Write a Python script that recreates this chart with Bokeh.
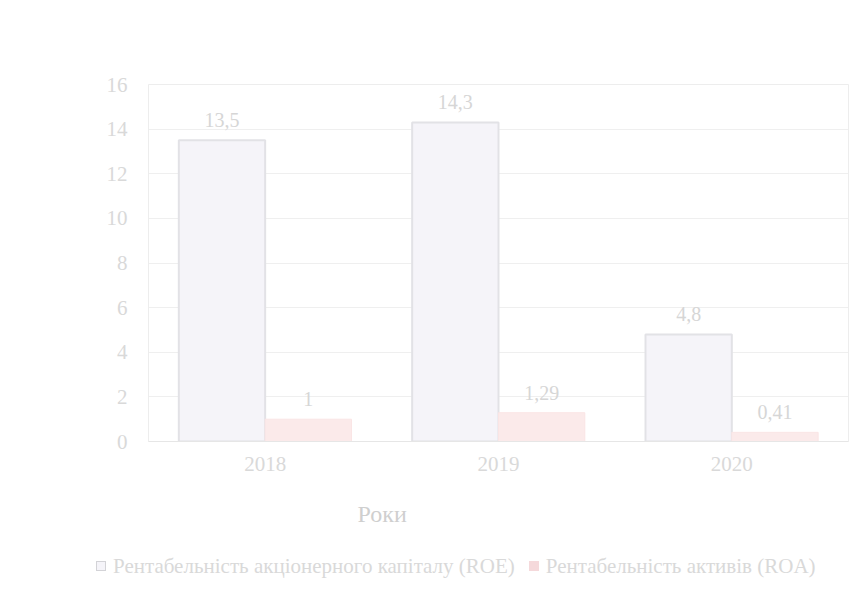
from bokeh.plotting import figure
from bokeh.layouts import column
from bokeh.models import ColumnDataSource, FactorRange, Range1d, Title, FixedTicker, LabelSet, Div
from bokeh.transform import dodge
from bokeh.core.properties import value
from bokeh.embed import file_html
from bokeh.resources import INLINE

years = ["2018", "2019", "2020"]
roe = [13.5, 14.3, 4.8]
roa = [1, 1.29, 0.41]
y_ticks = [0, 2, 4, 6, 8, 10, 12, 14, 16]
roe_name = "Рентабельність акціонерного капіталу (ROE)"
roa_name = "Рентабельність активів (ROA)"
x_title = "Роки"

def fmt(v):
    return f"{v:g}".replace(".", ",")

src = ColumnDataSource(dict(
    years=years, roe=roe, roa=roa,
    roe_lbl=[fmt(v) for v in roe], roa_lbl=[fmt(v) for v in roa],
))

FONT = "Liberation Serif"
TXT = "#d9d9d9"
ROE_FILL, ROE_LINE = "#f5f4f9", "#e2e2e6"
ROA_FILL, ROA_LINE = "#fbeaea", "#fae5e5"

p = figure(x_range=FactorRange(*years), y_range=Range1d(0, 16),
           width=855, height=552, output_backend="svg", toolbar_location=None,
           min_border_left=148, min_border_right=7, min_border_top=84, min_border_bottom=109)
p.background_fill_color = "white"
p.border_fill_color = "white"
p.outline_line_color = "#ededed"

r1 = p.vbar(x=dodge("years", -0.185, range=p.x_range), top="roe", width=0.37, source=src,
            fill_color=ROE_FILL, line_color=ROE_LINE, line_width=2)
r2 = p.vbar(x=dodge("years", 0.185, range=p.x_range), top="roa", width=0.37, source=src,
            fill_color=ROA_FILL, line_color=ROA_LINE, line_width=1)

p.add_layout(LabelSet(x=dodge("years", -0.185, range=p.x_range), y="roe", text="roe_lbl", source=src,
                      text_align="center", text_baseline="bottom", y_offset=13,
                      text_font=value(FONT), text_font_size=value("20px"), text_color=value("#d6d6d6")))
p.add_layout(LabelSet(x=dodge("years", 0.185, range=p.x_range), y="roa", text="roa_lbl", source=src,
                      text_align="center", text_baseline="bottom", y_offset=13,
                      text_font=value(FONT), text_font_size=value("20px"), text_color=value("#d6d6d6")))

p.ygrid.grid_line_color = "#efefef"
p.ygrid.grid_line_width = 1
p.xgrid.grid_line_color = None

p.yaxis.ticker = FixedTicker(ticks=y_ticks)
p.yaxis.axis_line_color = None
p.yaxis.major_tick_line_color = None
p.yaxis.minor_tick_line_color = None
p.yaxis.major_label_standoff = 15
p.yaxis.major_label_text_font = FONT
p.yaxis.major_label_text_font_size = "21px"
p.yaxis.major_label_text_color = TXT

p.xaxis.axis_line_color = "#e6e6e6"
p.xaxis.axis_line_width = 1
p.xaxis.major_tick_line_color = None
p.xaxis.minor_tick_line_color = None
p.xaxis.major_label_standoff = 9
p.xaxis.major_label_text_font = FONT
p.xaxis.major_label_text_font_size = "21px"
p.xaxis.major_label_text_color = TXT

title = Title(text=x_title, align="left", offset=209, standoff=51,
              text_font=FONT, text_font_size="24px", text_font_style="normal",
              text_color="#cfcfcf")
p.add_layout(title, "below")

sq = ("display:inline-block;width:10px;height:10px;margin-right:7px;"
      "vertical-align:middle;position:relative;top:-2px;")
legend_html = (
    '<span style="font-family:\'Liberation Serif\',\'Times New Roman\',serif;font-size:21px;">'
    f'<span style="{sq}background:{ROE_FILL};border:1px solid #d3d3d7;"></span>{roe_name}'
    f'<span style="{sq}margin-left:14px;background:#f5d9db;border:1px solid #f5d9db;"></span>{roa_name}'
    '</span>'
)
legend_div = Div(text=legend_html, width=855, height=47, margin=(0, 0, 0, 0),
                 styles={"font-family": "'Liberation Serif', serif", "font-size": "21px",
                         "color": TXT, "white-space": "nowrap", "overflow": "hidden",
                         "line-height": "22px", "padding-top": "3px", "padding-left": "96px",
                         "box-sizing": "border-box", "background": "white"})

layout = column(p, legend_div, spacing=0)
open("out.html", "w").write(file_html(layout, INLINE))
